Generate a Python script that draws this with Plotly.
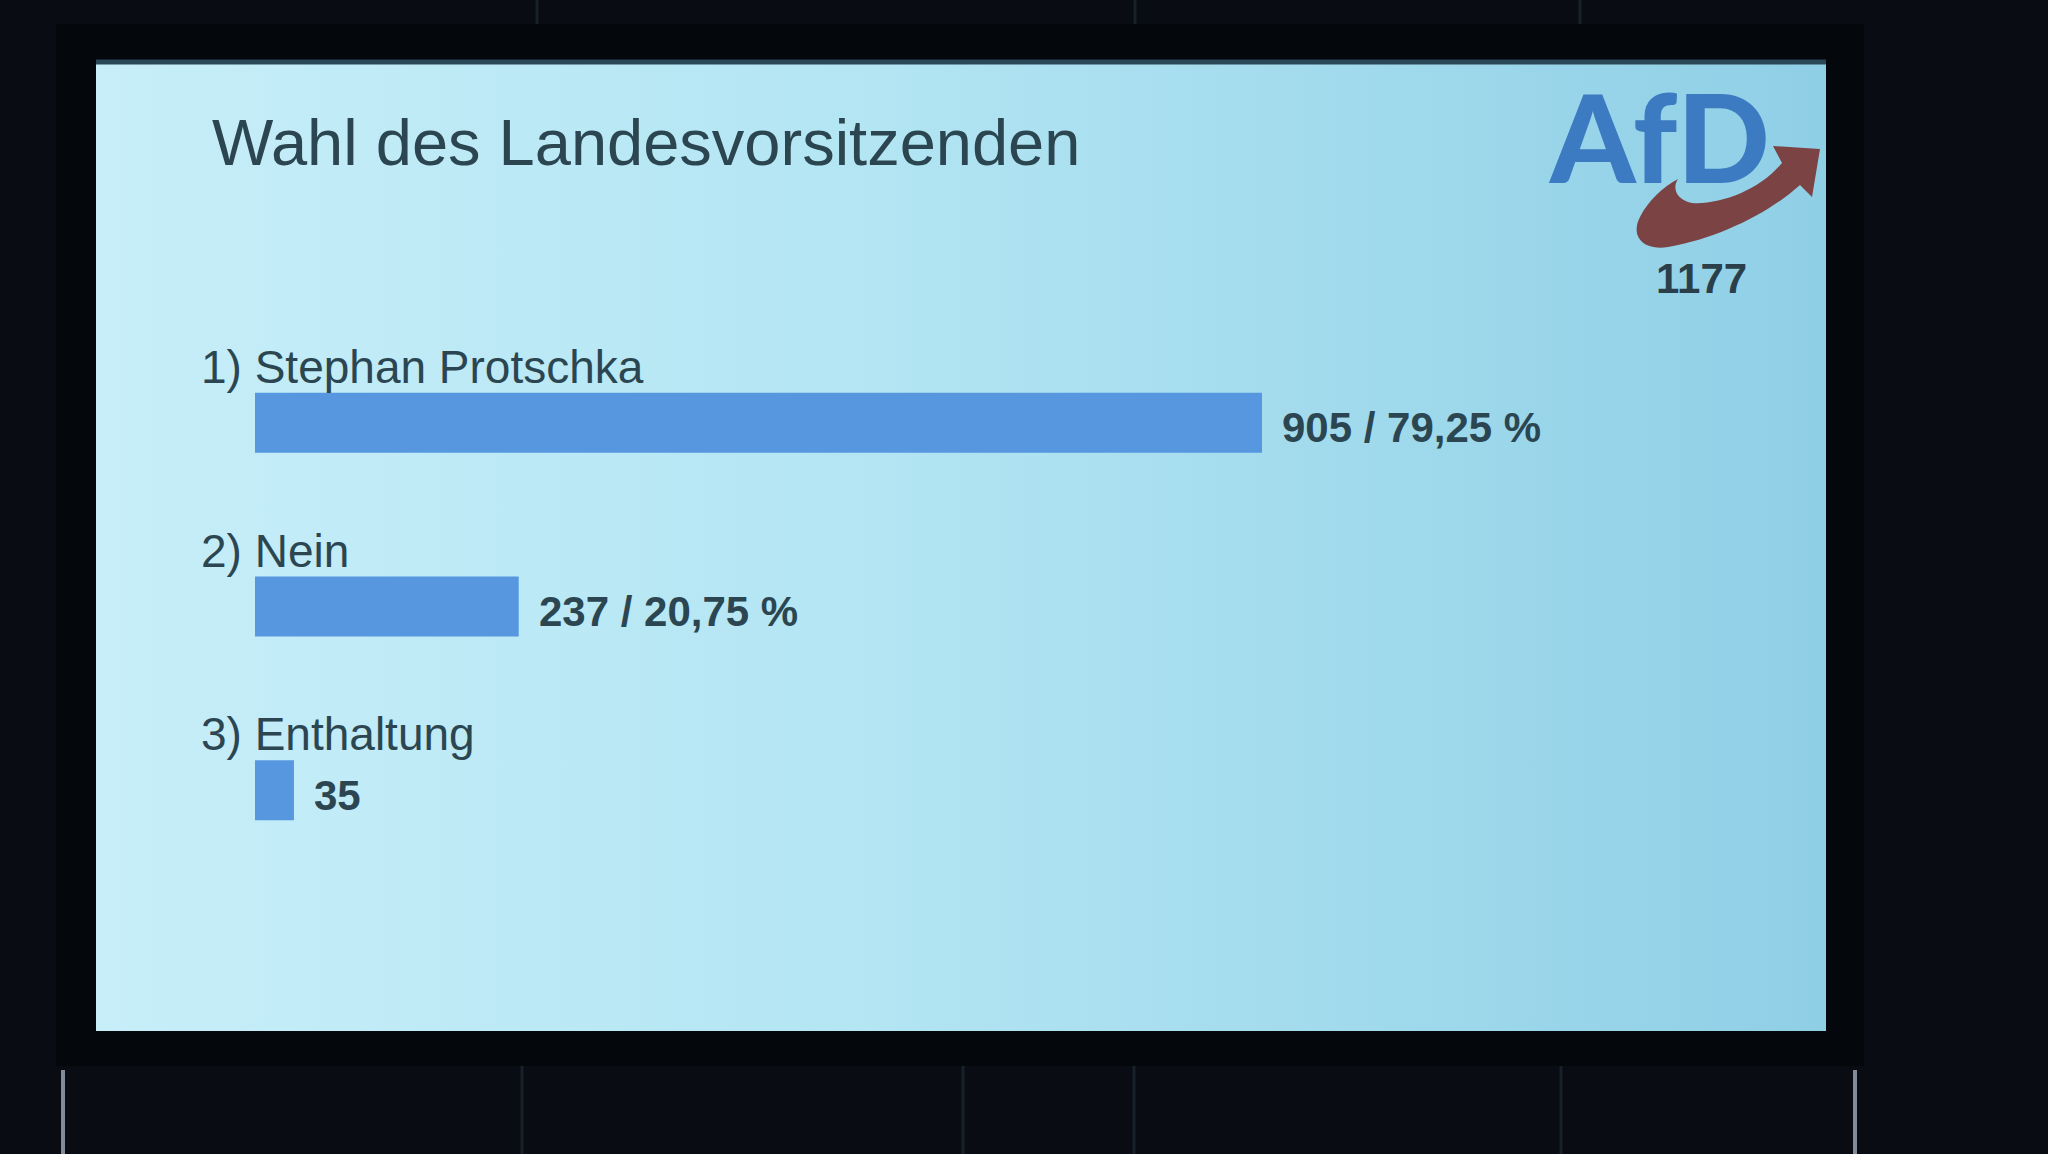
import plotly.graph_objects as go

# ---- data ----
categories = ["1) Stephan Protschka", "2) Nein", "3) Enthaltung"]
votes = [905, 237, 35]
value_labels = ["905 / 79,25 %", "237 / 20,75 %", "35"]
title_text = "Wahl des Landesvorsitzenden"
logo_text = "AfD"
total_label = "1177"

W, H = 2048, 1154
BAR_COLOR = "#5697e0"
TEXT_COLOR = "#2b4651"
FONT = "Liberation Sans, Arial, sans-serif"

fig = go.Figure()

# screen background (pixel axes x/y)
fig.add_trace(go.Scatter(
    x=[96, 1826, 1826, 96, 96], y=[60, 60, 1031, 1031, 60],
    fill="toself", mode="lines", line=dict(width=0),
    fillgradient=dict(type="horizontal",
                      colorscale=[[0, "#c7eef9"], [0.45, "#b3e5f3"], [1, "#8fcfe6"]]),
    hoverinfo="skip", showlegend=False, xaxis="x", yaxis="y"))

# bars (chart axes x2/y2)
y_pos = list(range(len(categories)))
fig.add_trace(go.Bar(
    x=votes, y=y_pos, orientation="h", width=0.326,
    marker=dict(color=BAR_COLOR, line=dict(width=0)),
    hoverinfo="skip", showlegend=False, xaxis="x2", yaxis="y2"))

x_max = 1000
px_per_vote = 1007 / 905
fig.update_layout(
    width=W, height=H, margin=dict(l=0, r=0, t=0, b=0),
    paper_bgcolor="#090d13", plot_bgcolor="rgba(0,0,0,0)", showlegend=False,
    xaxis=dict(domain=[0, 1], range=[0, W], visible=False),
    yaxis=dict(domain=[0, 1], range=[H, 0], visible=False),
    xaxis2=dict(domain=[255 / W, (255 + x_max * px_per_vote) / W], range=[0, x_max],
                anchor="y2", visible=False),
    yaxis2=dict(domain=[1 - 974 / H, 1 - 239 / H], range=[3, -1], anchor="x2", visible=False),
)

shapes = []
# bezel
shapes.append(dict(type="rect", xref="x", yref="y", x0=56, x1=1864, y0=24, y1=1066,
                   fillcolor="#04070b", line=dict(width=0), layer="below"))
# background seams
for sx, y0, y1 in [(537, 0, 24), (1135, 0, 24), (1580, 0, 24),
                   (522, 1066, 1154), (963, 1066, 1154), (1134, 1066, 1154), (1561, 1066, 1154)]:
    shapes.append(dict(type="line", xref="x", yref="y", x0=sx, x1=sx, y0=y0, y1=y1,
                       line=dict(color="#182029", width=3), layer="below"))
for sx in [63, 1855]:
    shapes.append(dict(type="line", xref="x", yref="y", x0=sx, x1=sx, y0=1070, y1=1154,
                       line=dict(color="#7f8c98", width=4), layer="below"))
# top shadow of screen
shapes.append(dict(type="line", xref="x", yref="y", x0=96, x1=1826, y0=62, y1=62,
                   line=dict(color="#2c4858", width=5), layer="above"))
# logo swoosh
shapes.append(dict(
    type="path", xref="x", yref="y", layer="above",
    path=("M 1678,179 C 1672,188 1676,200 1692,203 C 1720,205 1760,190 1782,163 "
          "L 1773,146 L 1820,149 L 1812,197 L 1800,185 "
          "C 1770,212 1720,238 1668,247 C 1643,251 1630,236 1640,217 "
          "C 1648,201 1663,187 1678,179 Z"),
    fillcolor="#7b4343", line=dict(width=0)))
fig.update_layout(shapes=shapes)

annotations = []
# title
annotations.append(dict(xref="x", yref="y", x=210, y=142, text=title_text, showarrow=False,
                        xanchor="left", yanchor="middle",
                        font=dict(family=FONT, size=65, color=TEXT_COLOR)))
# logo text
annotations.append(dict(xref="x", yref="y", x=1659, y=136, text=logo_text,
                        showarrow=False, xanchor="center", yanchor="middle",
                        font=dict(family="Lato, Liberation Sans, sans-serif", size=122,
                                  weight=900, color="#3c7bc1")))
annotations.append(dict(xref="x", yref="y", x=1701, y=278, text="<b>" + total_label + "</b>",
                        showarrow=False, xanchor="center", yanchor="middle",
                        font=dict(family=FONT, size=42, color="#2a3f49")))
# category labels and values
for i, (cat, v, lab) in enumerate(zip(categories, votes, value_labels)):
    annotations.append(dict(xref="x2", yref="y2", x=0, y=i - 0.163, text=cat, showarrow=False,
                            xanchor="left", yanchor="bottom", xshift=-56, yshift=-2,
                            font=dict(family=FONT, size=46, color=TEXT_COLOR)))
    annotations.append(dict(xref="x2", yref="y2", x=v, y=i, text="<b>" + lab + "</b>",
                            showarrow=False, xanchor="left", yanchor="middle",
                            xshift=18, yshift=-5,
                            font=dict(family=FONT, size=42, color=TEXT_COLOR)))
fig.update_layout(annotations=annotations)

fig.write_html("out.html", config={"displayModeBar": False},
               post_script="document.body.style.margin='0';document.body.style.overflow='hidden';")
